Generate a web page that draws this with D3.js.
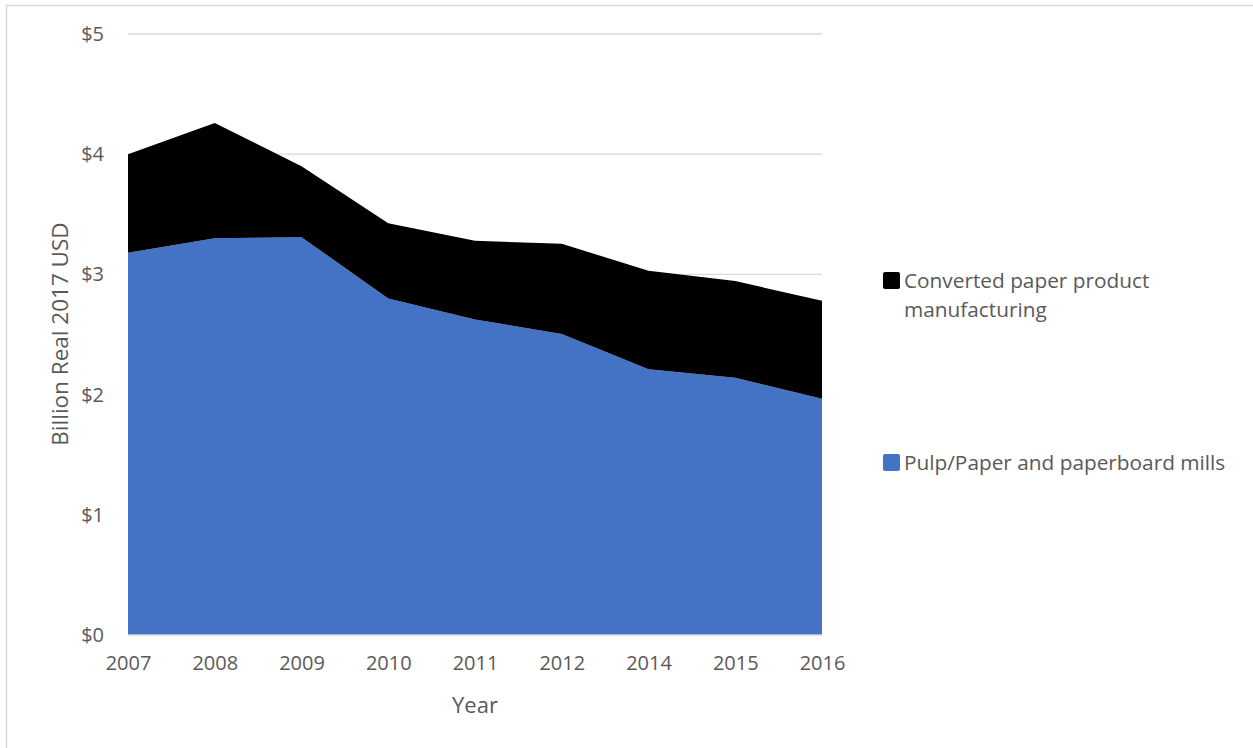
<!DOCTYPE html>
<html>
<head>
<meta charset="utf-8">
<script src="https://cdn.jsdelivr.net/npm/d3@7"></script>
<style>
  html, body { margin: 0; padding: 0; background: #fff; }
  svg { display: block; }
  text { font-family: "Open Sans", "Noto Sans", sans-serif; fill: #595959; }
</style>
</head>
<body>
<svg id="chart" width="1253" height="748"></svg>
<script>
// ---- data ----
const years = ["2007", "2008", "2009", "2010", "2011", "2012", "2014", "2015", "2016"];
const pulpMills = [3.18, 3.30, 3.31, 2.80, 2.625, 2.505, 2.21, 2.14, 1.965];
const convertedPaper = [0.82, 0.96, 0.59, 0.625, 0.655, 0.75, 0.82, 0.805, 0.815];
const yTicks = [0, 1, 2, 3, 4, 5];
const seriesNames = ["Pulp/Paper and paperboard mills", "Converted paper product manufacturing"];
const seriesColors = ["#4472C4", "#000000"];

// ---- layout ----
const svg = d3.select("#chart");
const W = 1253, H = 748;
const margin = { left: 128, right: W - 822, top: 34, bottom: H - 635 };

// frame border
svg.append("path")
  .attr("d", `M6.5,748 L6.5,5.5 L1253,5.5`)
  .attr("fill", "none").attr("stroke", "#d9d9d9").attr("stroke-width", 1.5);

const x = d3.scalePoint().domain(years).range([margin.left, W - margin.right]);
const y = d3.scaleLinear().domain([0, 5]).range([H - margin.bottom, margin.top]);

// gridlines
svg.append("g").selectAll("line").data(yTicks.filter(d => d > 0)).join("line")
  .attr("x1", margin.left).attr("x2", W - margin.right)
  .attr("y1", d => y(d)).attr("y2", d => y(d))
  .attr("stroke", "#d9d9d9").attr("stroke-width", 1.3);

// stacked data
const rows = years.map((yr, i) => ({ year: yr, pulp: pulpMills[i], conv: convertedPaper[i] }));
const stacked = d3.stack().keys(["pulp", "conv"])(rows);

const area = d3.area()
  .x(d => x(d.data.year))
  .y0(d => y(d[0]))
  .y1(d => y(d[1]));

svg.append("g").selectAll("path").data(stacked).join("path")
  .attr("d", area)
  .attr("fill", (d, i) => seriesColors[i]);

// x axis line
svg.append("line")
  .attr("x1", margin.left).attr("x2", W - margin.right)
  .attr("y1", y(0)).attr("y2", y(0))
  .attr("stroke", "#d9d9d9").attr("stroke-width", 1.3);

// y axis labels
const yAxis = d3.axisLeft(y).tickValues(yTicks).tickFormat(d => "$" + d).tickSize(0).tickPadding(24);
const gy = svg.append("g").attr("transform", `translate(${margin.left},0)`).call(yAxis);
gy.select(".domain").remove();
gy.selectAll("text").style("font-size", "20px").attr("fill", "#595959")
  .style("font-family", '"Open Sans", sans-serif');

// x axis labels
const xAxis = d3.axisBottom(x).tickSize(0).tickPadding(21);
const gx = svg.append("g").attr("transform", `translate(0,${y(0)})`).call(xAxis);
gx.select(".domain").remove();
gx.selectAll("text").style("font-size", "20px").attr("fill", "#595959")
  .style("font-family", '"Open Sans", sans-serif');

// axis titles
svg.append("text")
  .attr("x", (margin.left + W - margin.right) / 2).attr("y", 713)
  .attr("text-anchor", "middle").style("font-size", "22px").text("Year");

svg.append("text")
  .attr("transform", `translate(68,334) rotate(-90)`)
  .attr("text-anchor", "middle").style("font-size", "22.5px").text("Billion Real 2017 USD");

// legend
const legend = [
  { name: "Converted paper product", name2: "manufacturing", color: seriesColors[1], top: 272 },
  { name: seriesNames[0], name2: null, color: seriesColors[0], top: 454 }
];
const lg = svg.append("g");
legend.forEach(l => {
  lg.append("rect").attr("x", 883).attr("y", l.top).attr("width", 17).attr("height", 17)
    .attr("rx", 2).attr("fill", l.color);
  lg.append("text").attr("x", 904).attr("y", l.top + 16).style("font-size", "20.8px").text(l.name);
  if (l.name2) lg.append("text").attr("x", 904).attr("y", l.top + 44.5).style("font-size", "20.8px").text(l.name2);
});
</script>
</body>
</html>
